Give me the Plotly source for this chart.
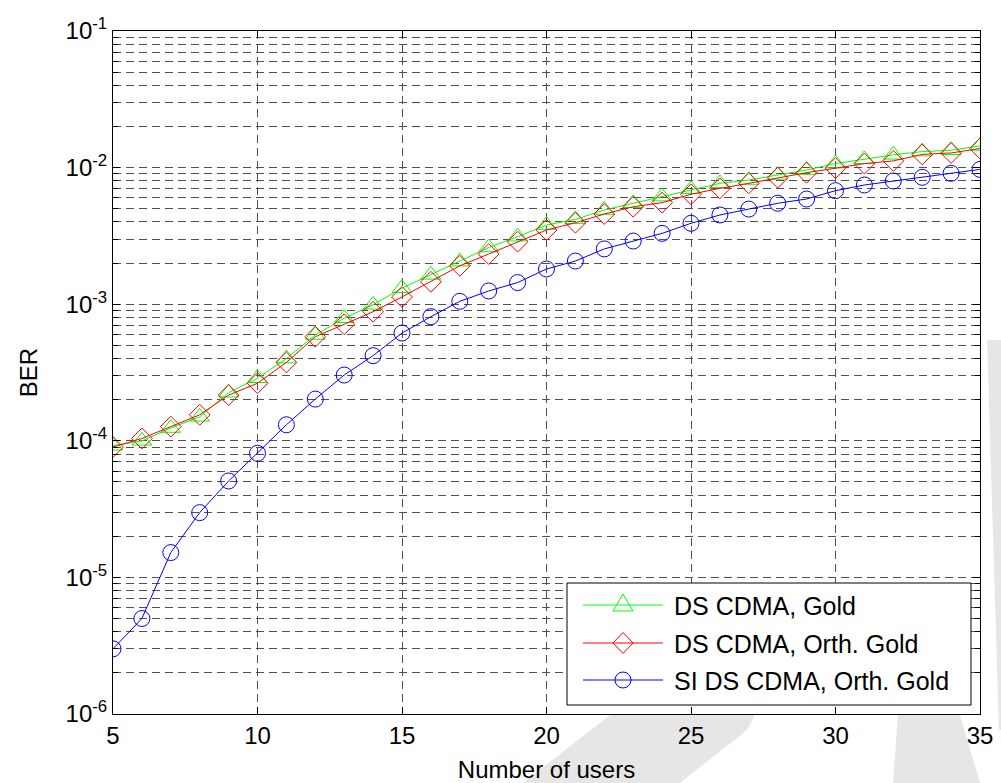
import plotly.graph_objects as go

# ---------------- data ----------------
users = list(range(5, 36))

ber_ds_gold = [9.2e-5, 1.0e-4, 1.24e-4, 1.50e-4, 2.25e-4, 2.87e-4, 4.0e-4, 5.95e-4, 7.9e-4, 9.9e-4,
               1.31e-3, 1.64e-3, 2.05e-3, 2.6e-3, 3.12e-3, 3.8e-3, 4.18e-3, 4.89e-3, 5.48e-3, 6.13e-3,
               6.94e-3, 7.67e-3, 8.11e-3, 8.83e-3, 9.6e-3, 1.07e-2, 1.15e-2, 1.24e-2, 1.31e-2, 1.34e-2,
               1.44e-2]

ber_ds_orth = [9.0e-5, 1.04e-4, 1.27e-4, 1.55e-4, 2.16e-4, 2.64e-4, 3.75e-4, 5.78e-4, 7.13e-4, 8.81e-4,
               1.13e-3, 1.46e-3, 1.91e-3, 2.33e-3, 2.87e-3, 3.49e-3, 3.95e-3, 4.57e-3, 5.17e-3, 5.54e-3,
               6.38e-3, 7.05e-3, 7.67e-3, 8.44e-3, 9.18e-3, 9.9e-3, 1.07e-2, 1.12e-2, 1.25e-2, 1.28e-2,
               1.38e-2]

ber_si_orth = [3.0e-6, 5.0e-6, 1.52e-5, 2.98e-5, 5.08e-5, 8.1e-5, 1.31e-4, 2.02e-4, 3.03e-4, 4.2e-4,
               6.15e-4, 8.1e-4, 1.05e-3, 1.25e-3, 1.44e-3, 1.81e-3, 2.07e-3, 2.54e-3, 2.90e-3, 3.30e-3,
               3.91e-3, 4.5e-3, 4.97e-3, 5.48e-3, 5.89e-3, 6.78e-3, 7.46e-3, 7.98e-3, 8.49e-3, 9.08e-3,
               9.7e-3]

series_names = ["DS CDMA, Gold", "DS CDMA, Orth. Gold", "SI DS CDMA, Orth. Gold"]

x_ticks = [5, 10, 15, 20, 25, 30, 35]
y_decades = [-6, -5, -4, -3, -2, -1]
y_ticktext = ["10<sup>%d</sup>" % d for d in y_decades]

# ---------------- layout geometry ----------------
W, H = 1001, 783
L, R, T, B = 113, 980, 31, 714
FONT = "Liberation Sans, Arial, sans-serif"
GRID = "#505050"
DASH = "8px,5px"


def px(x):
    return (x - L) / (R - L)


def py(y):
    return (B - y) / (B - T)


fig = go.Figure()

styles = [
    dict(color="#00ff00", symbol="triangle-up-open", size=17),
    dict(color="#ff0000", symbol="diamond-open", size=16),
    dict(color="#0000ff", symbol="circle-open", size=16),
]
for name, ys, st in zip(series_names, [ber_ds_gold, ber_ds_orth, ber_si_orth], styles):
    fig.add_trace(go.Scatter(
        x=users, y=ys, name=name, mode="lines+markers",
        line=dict(color=st["color"], width=1),
        marker=dict(symbol=st["symbol"], size=st["size"], color=st["color"],
                    line=dict(color=st["color"], width=1)),
        showlegend=False,
    ))

minor_vals = [k * 10.0 ** d for d in y_decades[:-1] for k in range(2, 10)]

fig.update_xaxes(
    range=[5, 35], tickvals=x_ticks, ticks="inside", ticklen=7, tickcolor="black",
    showline=True, linecolor="black", linewidth=1, mirror="allticks",
    showgrid=True, gridcolor=GRID, griddash=DASH, gridwidth=1, zeroline=False,
    tickfont=dict(family=FONT, size=24, color="black"),
    title=dict(text="Number of users", font=dict(family=FONT, size=24, color="black"), standoff=15),
)
fig.update_yaxes(
    type="log", range=[-6, -1], tickvals=[10.0 ** d for d in y_decades], ticktext=y_ticktext,
    ticks="inside", ticklen=7, tickcolor="black",
    showline=True, linecolor="black", linewidth=1, mirror="allticks",
    showgrid=True, gridcolor=GRID, griddash=DASH, gridwidth=1, zeroline=False,
    minor=dict(tickvals=minor_vals, ticks="inside", ticklen=5, tickcolor="black",
               showgrid=True, gridcolor=GRID, griddash=DASH, gridwidth=1),
    tickfont=dict(family=FONT, size=24, color="black"),
    title=dict(text="BER", font=dict(family=FONT, size=24, color="black"), standoff=21),
)

shapes = []
# faint watermark outside the axes
wm = "#e6e6e6"
for poly in [
    [(610, 715), (755, 715), (747, 730), (680, 783), (523, 783)],
    [(898, 715), (960, 715), (980, 783), (893, 783)],
    [(987, 340), (1001, 340), (1001, 730), (999, 730)],
]:
    path = "M " + " L ".join("%.4f,%.4f" % (px(a), py(b)) for a, b in poly) + " Z"
    shapes.append(dict(type="path", xref="paper", yref="paper", path=path,
                       fillcolor=wm, line=dict(width=0), layer="below"))

# legend box
shapes.append(dict(type="rect", xref="paper", yref="paper",
                   x0=px(567), x1=px(971), y0=py(583), y1=py(705),
                   fillcolor="white", line=dict(color="black", width=1), layer="above"))
rows = [605, 643, 680]
mx = 623
for (st, yy) in zip(styles, rows):
    c = st["color"]
    shapes.append(dict(type="line", xref="paper", yref="paper",
                       x0=px(583), x1=px(663), y0=py(yy), y1=py(yy),
                       line=dict(color=c, width=1), layer="above"))
    if st["symbol"].startswith("triangle"):
        path = "M -10,-6 L 10,-6 L 0,11 Z"
        shapes.append(dict(type="path", xref="paper", yref="paper",
                           xsizemode="pixel", ysizemode="pixel",
                           xanchor=px(mx), yanchor=py(yy), path=path,
                           fillcolor="rgba(0,0,0,0)", line=dict(color=c, width=1), layer="above"))
    elif st["symbol"].startswith("diamond"):
        path = "M -10,0 L 0,10.5 L 10,0 L 0,-10.5 Z"
        shapes.append(dict(type="path", xref="paper", yref="paper",
                           xsizemode="pixel", ysizemode="pixel",
                           xanchor=px(mx), yanchor=py(yy), path=path,
                           fillcolor="rgba(0,0,0,0)", line=dict(color=c, width=1), layer="above"))
    else:
        shapes.append(dict(type="circle", xref="paper", yref="paper",
                           xsizemode="pixel", ysizemode="pixel",
                           xanchor=px(mx), yanchor=py(yy), x0=-8, x1=8, y0=-8, y1=8,
                           fillcolor="rgba(0,0,0,0)", line=dict(color=c, width=1), layer="above"))

annotations = []
for name, yy in zip(series_names, rows):
    annotations.append(dict(xref="paper", yref="paper", x=px(672), y=py(yy + 1),
                            xanchor="left", yanchor="middle", showarrow=False,
                            text=name, font=dict(family=FONT, size=25, color="black")))

fig.update_layout(
    width=W, height=H,
    margin=dict(l=L, r=W - R, t=T, b=H - B, autoexpand=False),
    paper_bgcolor="white", plot_bgcolor="white",
    shapes=shapes, annotations=annotations, showlegend=False,
)

fig.write_html("out.html",
               config={"displayModeBar": False, "staticPlot": True},
               post_script="document.body.style.margin='0px';document.body.style.overflow='hidden';")
